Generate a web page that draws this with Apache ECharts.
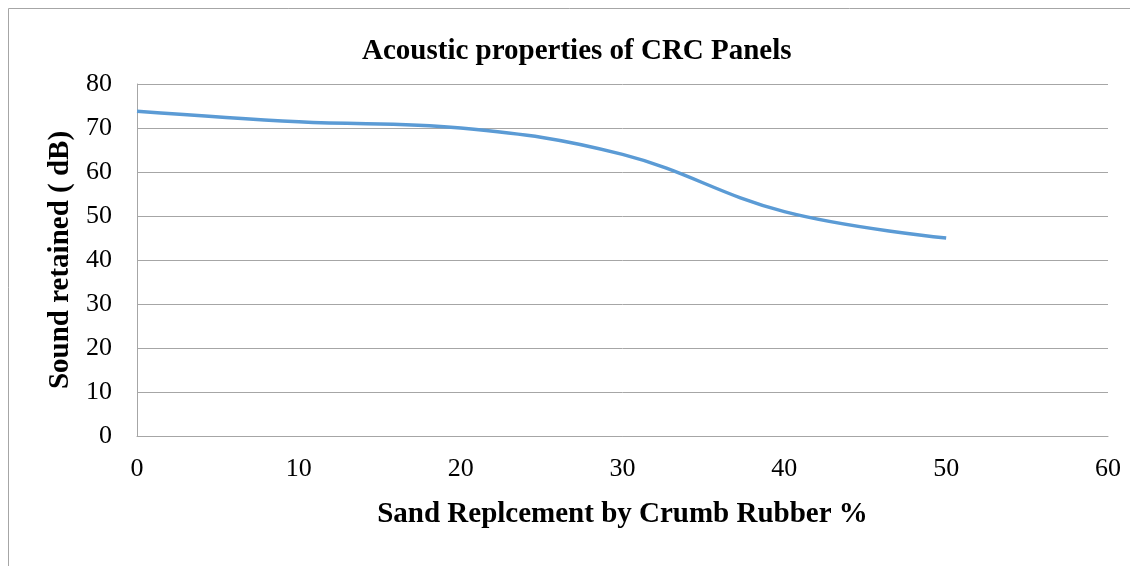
<!DOCTYPE html>
<html><head><meta charset="utf-8">
<script src="https://cdn.jsdelivr.net/npm/echarts@6/dist/echarts.min.js"></script>
<style>html,body{margin:0;padding:0;background:#fff}#c{width:1130px;height:566px}</style>
</head><body><div id="c"></div>
<script>
const xValues = [0, 10, 20, 30, 40, 50];
const soundRetained = [73.8, 71.4, 70.0, 64.0, 51.0, 45.0];
const titleText = 'Acoustic properties of CRC Panels';
const xName = 'Sand Replcement by Crumb Rubber %';
const yName = 'Sound retained ( dB)';
const font = '"Liberation Serif","Times New Roman",serif';
const chart = echarts.init(document.getElementById('c'));
chart.setOption({
  animation: false,
  graphic: [{type:'polyline', shape:{points:[[8.5,566],[8.5,8.5],[1130,8.5]]}, style:{stroke:'#a6a6a6', lineWidth:1, fill:null}}],
  title: {text: titleText, left: 357, top: 32, textStyle:{fontFamily:font, fontSize:29, fontWeight:'bold', color:'#000'}},
  grid: {left:137, right:22, top:84, bottom:130},
  xAxis: {type:'value', min:0, max:60, interval:10, name:xName, nameLocation:'middle', nameGap:64,
    nameTextStyle:{fontFamily:font, fontSize:29, fontWeight:'bold', color:'#000'},
    axisLine:{lineStyle:{color:'#a6a6a6'}}, axisTick:{show:false}, splitLine:{show:false},
    axisLabel:{fontFamily:font, fontSize:26, color:'#000', margin:20}},
  yAxis: {type:'value', min:0, max:80, interval:10, name:yName, nameLocation:'middle', nameGap:58,
    nameTextStyle:{fontFamily:font, fontSize:29, fontWeight:'bold', color:'#000'},
    axisLine:{show:true, lineStyle:{color:'#a6a6a6'}}, axisTick:{show:false},
    splitLine:{lineStyle:{color:'#a6a6a6', width:1}},
    axisLabel:{fontFamily:font, fontSize:26, color:'#000', margin:25}},
  series: [{type:'line', data: xValues.map((x,i)=>[x, soundRetained[i]]), smooth:0.4, showSymbol:false,
    lineStyle:{color:'#5b9bd5', width:3.5}, itemStyle:{color:'#5b9bd5'}}]
});
</script></body></html>
